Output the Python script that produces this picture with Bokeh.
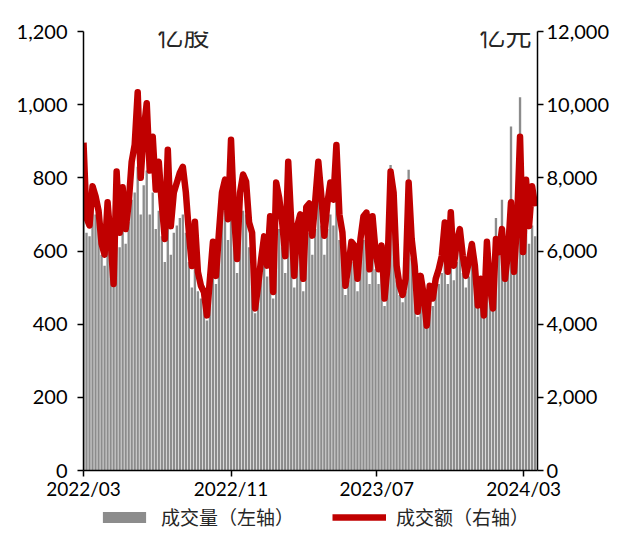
import pandas as pd
from bokeh.plotting import figure
from bokeh.layouts import column
from bokeh.models import (Range1d, LinearAxis, FixedTicker, NumeralTickFormatter,
                          DatetimeTickFormatter, Legend, LegendItem, Label)
from bokeh.embed import file_html
from bokeh.resources import INLINE

# ---------------- data ----------------
start_date = "2022-03-01"
step_days = 5

# 成交额 (亿元, right axis)
amount = [8960, 6900, 6700, 7770, 7500, 7100, 6200, 5900, 7330, 6300,
          5100, 8170, 6500, 7740, 6600, 7300, 8440, 8900, 10340, 8000,
          9300, 10040, 8200, 9120, 7680, 8440, 7300, 6330, 8770, 6680,
          7600, 7870, 8140, 8300, 7600, 6510, 5590, 6800, 5430, 5050,
          4880, 4240, 5240, 6250, 5320, 6510, 7600, 7950, 6870, 9040,
          7000, 5780, 7600, 8090, 7900, 6780, 6500, 4430, 5050, 5780,
          6400, 5600, 6950, 4880, 7870, 7450, 6780, 5860, 8440, 6780,
          5320, 6680, 7000, 5240, 7200, 7300, 6420, 7400, 8440, 7500,
          6420, 7300, 7870, 7400, 8900, 7000, 6510, 5050, 5600, 6250,
          6150, 5240, 6330, 6950, 7050, 5500, 6950, 6000, 5500, 6150,
          4700, 5600, 8170, 7600, 5600, 5050, 4800, 5240, 7870, 6330,
          5600, 4340, 5320, 4800, 3960, 5050, 4700, 5240, 5500, 5860,
          6780, 5430, 7060, 5600, 6250, 6600, 5860, 5320, 5700, 6190,
          5600, 4510, 5240, 4240, 6250, 5050, 4430, 6330, 5970, 6600,
          5240, 5970, 7330, 5430, 6780, 9120, 5970, 7950, 6680, 7770,
          7220]

# 成交量 (亿股, left axis)
volume = [760, 650, 640, 720, 700, 670, 590, 560, 690, 600,
          510, 760, 610, 720, 620, 680, 740, 760, 830, 700,
          780, 820, 700, 760, 660, 710, 640, 570, 720, 590,
          650, 670, 690, 700, 650, 570, 500, 600, 490, 470,
          460, 410, 500, 590, 510, 610, 690, 710, 630, 780,
          640, 540, 680, 710, 700, 610, 590, 430, 480, 540,
          590, 530, 630, 470, 690, 660, 610, 540, 730, 610,
          500, 600, 620, 490, 640, 650, 590, 660, 740, 670,
          590, 660, 700, 670, 770, 630, 590, 480, 520, 570,
          560, 490, 580, 630, 640, 510, 630, 550, 510, 560,
          450, 520, 835, 700, 520, 480, 460, 490, 822, 580,
          520, 420, 500, 460, 390, 480, 450, 490, 510, 540,
          610, 510, 630, 520, 570, 600, 540, 500, 530, 570,
          530, 450, 510, 430, 600, 500, 450, 690, 640, 740,
          580, 650, 940, 600, 720, 1020, 610, 680, 620, 670,
          640]

x_tick_dates = ["2022-03-01", "2022-11-01", "2023-07-01", "2024-03-01"]
x_tick_labels = ["2022/03", "2022/11", "2023/07", "2024/03"]
left_ticks = [0, 200, 400, 600, 800, 1000, 1200]
right_ticks = [0, 2000, 4000, 6000, 8000, 10000, 12000]

series_names = ["成交量（左轴）", "成交额（右轴）"]
unit_left = "亿股"
unit_right = "亿元"

BAR_COLOR = "#8c8c8c"
LINE_COLOR = "#C00000"

# ---------------- main figure ----------------
dates = pd.date_range(start_date, periods=len(amount), freq=f"{step_days}D")
day_ms = 86400000
BL, BR = 83, 71

p = figure(width=612, height=502, x_axis_type="datetime",
           x_range=Range1d(pd.Timestamp("2022-03-01"), pd.Timestamp("2024-03-24")),
           y_range=Range1d(0, 1200),
           output_backend="svg", toolbar_location=None,
           min_border_left=BL, min_border_right=BR,
           min_border_top=31, min_border_bottom=29)
p.outline_line_color = None
p.xgrid.visible = False
p.ygrid.visible = False
p.extra_y_ranges = {"amt": Range1d(0, 12000)}

bars = p.vbar(x=dates, top=volume, width=3.9 * day_ms,
              fill_color=BAR_COLOR, line_color=None)
line = p.line(x=dates, y=amount, y_range_name="amt",
              line_color=LINE_COLOR, line_width=6.5, line_join="round")

right_axis = LinearAxis(y_range_name="amt")
p.add_layout(right_axis, "right")

tick_ms = [pd.Timestamp(d).timestamp() * 1000 for d in x_tick_dates]
p.xaxis[0].ticker = FixedTicker(ticks=tick_ms)
p.xaxis[0].formatter = DatetimeTickFormatter(days="%Y/%m", months="%Y/%m", years="%Y/%m")
p.xaxis[0].major_label_overrides = {t: l for t, l in zip(tick_ms, x_tick_labels)}
p.yaxis[0].ticker = FixedTicker(ticks=left_ticks)
p.yaxis[0].formatter = NumeralTickFormatter(format="0,0")
right_axis.ticker = FixedTicker(ticks=right_ticks)
right_axis.formatter = NumeralTickFormatter(format="0,0")

for ax in [p.xaxis[0], p.yaxis[0], right_axis]:
    ax.axis_line_color = "black"
    ax.axis_line_width = 1.5
    ax.major_tick_line_color = "black"
    ax.major_tick_line_width = 1.5
    ax.major_tick_out = 6
    ax.major_tick_in = 0
    ax.minor_tick_line_color = None
    ax.major_label_text_font = "Lato"
    ax.major_label_text_font_size = "20px"
    ax.major_label_text_color = "black"
p.xaxis[0].major_label_text_font_size = "19px"
p.yaxis[0].major_label_standoff = 10
right_axis.major_label_standoff = 3
p.xaxis[0].major_label_standoff = 0

for txt, xs in [(unit_left, 100), (unit_right, 422)]:
    p.add_layout(Label(x=xs, y=436, x_units="screen", y_units="screen", text=txt,
                       text_font="Noto Sans CJK SC", text_font_size="26px",
                       text_align="center", text_baseline="middle",
                       text_color="#262626"))

# ---------------- legend strip ----------------
# hidden renderers (same series) only supply the legend glyph styles
p2 = figure(width=612, height=28, x_range=Range1d(0, 1), y_range=Range1d(0, 1),
            output_backend="svg", toolbar_location=None,
            x_axis_location=None, y_axis_location=None,
            min_border_left=BL, min_border_right=BR,
            min_border_top=0, min_border_bottom=0)
p2.outline_line_color = None
p2.grid.visible = False
lb = p2.vbar(x=dates, top=volume, width=1, fill_color=BAR_COLOR, line_color=None)
ll = p2.line(x=dates, y=amount, line_color=LINE_COLOR, line_width=6.5)
lb.visible = False
ll.visible = False

legend = Legend(items=[LegendItem(label=series_names[0], renderers=[lb]),
                       LegendItem(label=series_names[1], renderers=[ll])],
                orientation="horizontal", location=(14, 0),
                border_line_color=None, background_fill_alpha=0,
                inactive_fill_alpha=0,
                label_text_font="Noto Sans CJK SC", label_text_font_size="19px",
                label_text_color="#262626",
                glyph_width=54, glyph_height=14, label_standoff=10, spacing=38,
                padding=0, margin=0)
p2.add_layout(legend)

open("out.html", "w").write(file_html(column(p, p2, spacing=0), INLINE))
